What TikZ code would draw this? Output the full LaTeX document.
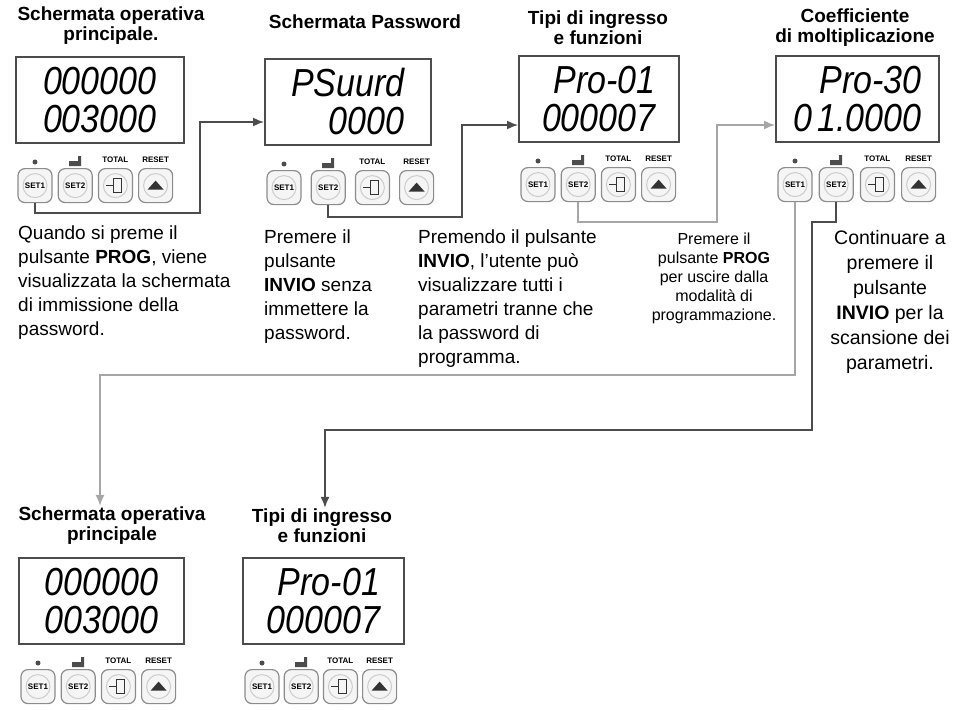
\documentclass[tikz,border=0pt]{standalone}
\usepackage{fontspec}
\setmainfont{Liberation Sans}
\usetikzlibrary{calc,positioning,arrows.meta}
\tikzset{
  disp/.style={draw=black!70,line width=1.6pt,minimum width=#1,minimum height=86pt,inner sep=4pt,align=right},
  key/.style={draw=black!45,fill=black!4,rounded corners=7pt,minimum size=34pt,line width=1.2pt,inner sep=0pt,font=\bfseries\fontsize{8}{8}\selectfont},
  keytop/.style={font=\bfseries\fontsize{8}{8}\selectfont,inner sep=0pt},
  title/.style={font=\bfseries\fontsize{19}{20}\selectfont,align=center,inner sep=1pt},
  note/.style={font=\fontsize{19}{24}\selectfont,align=left,anchor=north west,inner sep=0pt},
  flow/.style={draw=black!70,line width=1.6pt},
  flowl/.style={draw=black!35,line width=1.6pt},
  tip/.style={-{Latex[length=11pt,width=9pt]}}
}
% panel: name, left x, top y, width, upper line, lower line, key spacing
\newcommand\panel[7]{%
  \node[disp=#4,anchor=north west,font=\itshape\fontsize{34}{34}\selectfont] (#1d) at (#2,#3)
    {\scalebox{1}[1.15]{#5}\\[4pt]\scalebox{1}[1.15]{#6}};
  \node[key] (#1a) at ($(#1d.south west)+(20,42)$) {SET1};
  \node[key,right=#7 of #1a] (#1b) {SET2};
  \node[key,right=#7 of #1b] (#1c) {};
  \node[key,right=#7 of #1c] (#1e) {};
  \draw[black!20,line width=1pt] (#1a) circle (12pt) (#1b) circle (12pt) (#1c) circle (12pt) (#1e) circle (12pt);
  \node[keytop,above=5pt of #1c] {TOTAL};
  \node[keytop,above=5pt of #1e] {RESET};
  \fill[black!70] ($(#1a.north)+(0,-6)$) circle (2.5pt);
  \fill[black!70] ($(#1b.north)+(-6,-7)$) rectangle ++(12,5) ($(#1b.north)+(3,-12)$) rectangle ++(3,10);
  \draw[black!80,line width=1.5pt] ($(#1c)+(-2,-7)$) rectangle ++(8,14) ($(#1c)+(-9,0)$) -- ++(7,0);
  \fill[black!80] ($(#1e)+(-8,4)$) -- ++(16,0) -- ++(-8,-9) -- cycle;
}
\begin{document}
\begin{tikzpicture}[x=1pt,y=-1pt]
\useasboundingbox (0,0) rectangle (957,709);
% titoli
\node[title] (t1) at (111,26) {Schermata operativa\\principale.};
\node[title] (t2) at (365,22) {Schermata Password};
\node[title] (t3) at (598,28) {Tipi di ingresso\\e funzioni};
\node[title] (t4) at (855,28) {Coefficiente\\di moltiplicazione};
\node[title] (t5) at (112,526) {Schermata operativa\\principale};
\node[title] (t6) at (322,526) {Tipi di ingresso\\e funzioni};
% pannelli
\panel{p1}{15}{56}{168}{000000}{003000}{5pt}
\panel{p2}{264}{58}{166}{PSuurd}{0000}{9pt}
\panel{p3}{518}{55}{160}{Pro-01}{000007}{5pt}
\panel{p4}{775}{55}{163}{Pro-30}{0\,1.0000}{6pt}
\panel{p5}{18}{557}{165}{000000}{003000}{5pt}
\panel{p6}{242}{557}{161}{Pro-01}{000007}{4pt}
% testi
\node[note] (n1) at (18,226) {Quando si preme il\\pulsante \textbf{PROG}, viene\\visualizzata la schermata\\di immissione della\\password.};
\node[note] (n2) at (264,230) {Premere il\\pulsante\\\textbf{INVIO} senza\\immettere la\\password.};
\node[note] (n3) at (418,230) {Premendo il pulsante\\\textbf{INVIO}, l'utente può\\visualizzare tutti i\\parametri tranne che\\la password di\\programma.};
\node[note,anchor=north,align=center,font=\fontsize{16}{19}\selectfont] (n4) at (714,233) {Premere il\\pulsante \textbf{PROG}\\per uscire dalla\\modalità di\\programmazione.};
\node[note,anchor=north,align=center,font=\fontsize{19.5}{25}\selectfont] (n5) at (890,230) {Continuare a\\premere il\\pulsante\\\textbf{INVIO} per la\\scansione dei\\parametri.};
% collegamenti
\coordinate (c1) at (p1a.south |- 0,213);
\draw[flow,tip] (p1a.south) -- (c1) -| (200,122) -- (p2d.west |- 0,122);
\draw[flow,tip] (p2b.south) -- (p2b.south |- 0,217) -| (462,125) -- (p3d.west |- 0,125);
\draw[flowl,tip] (p3b.south) -- (p3b.south |- 0,222) -| (717,125) -- (p4d.west |- 0,125);
\draw[flowl,tip] (p4a.south) -- (p4a.south |- 0,375) -| (t5.north -| 100,0);
\draw[flow,tip] (p4b.south) -- (p4b.south |- 0,222) -| (812,430) -| (t6.north -| 325,0);
\end{tikzpicture}
\end{document}
